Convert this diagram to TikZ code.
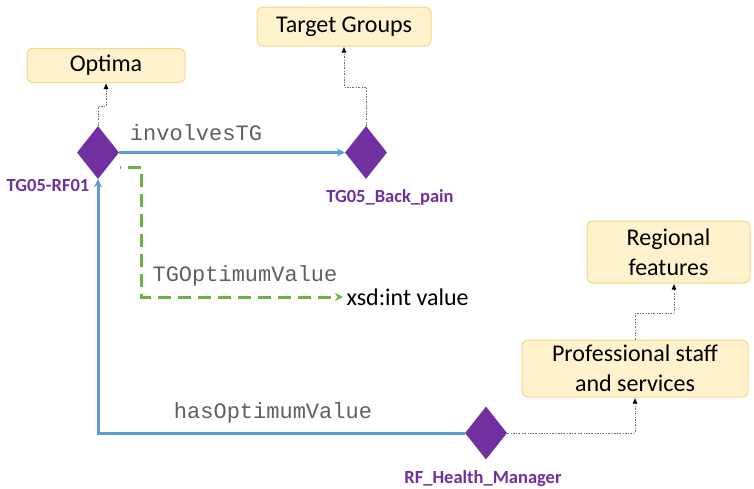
\documentclass[tikz,border=0pt]{standalone}
\usepackage{fontspec}
\setmainfont{Carlito}
\newfontfamily\monof{Liberation Mono}
\usetikzlibrary{shapes.geometric,arrows.meta}
\definecolor{purp}{HTML}{7030A0}
\definecolor{bluel}{HTML}{5B9BD5}
\definecolor{greenl}{HTML}{6DB33F}
\definecolor{boxfill}{HTML}{FFF2CC}
\definecolor{boxline}{HTML}{F5D885}
\definecolor{propgray}{HTML}{606060}
\definecolor{dotgray}{HTML}{707070}
\begin{document}
\begin{tikzpicture}[x=1pt,y=-1pt,
  classbox/.style={draw=boxline,line width=1pt,fill=boxfill,rounded corners=6pt,
    inner sep=0pt,align=center,font=\fontsize{24}{30}\selectfont},
  indiv/.style={diamond,fill=purp,inner sep=0pt,minimum width=42pt,minimum height=53pt},
  indivlabel/.style={text=purp,font=\fontsize{18.5}{22}\selectfont\bfseries},
  proplabel/.style={text=propgray,font=\monof\fontsize{22}{26}\selectfont},
  objprop/.style={draw=bluel,line width=3pt,-{Stealth[length=8pt,width=8pt]}},
  dataprop/.style={draw=greenl,line width=3pt,dash pattern=on 13pt off 7pt,
    -{Stealth[length=8pt,width=8pt]}},
  typeof/.style={draw=dotgray,line width=1pt,dash pattern=on 2pt off 1.5pt on 0.6pt off 1.5pt,
    -{Latex[length=6pt,width=5pt,black]}}]
\useasboundingbox[fill=white] (0,0) rectangle (754,488);

% classes
\node[classbox,minimum width=158pt,minimum height=34pt] (opt) at (106,65.5) {Optima};
\node[classbox,minimum width=174pt,minimum height=39pt] (tg) at (344,26.5) {Target Groups};
\node[classbox,minimum width=163pt,minimum height=62pt] (reg) at (668.5,252) {Regional\\features};
\node[classbox,minimum width=226pt,minimum height=57pt] (prof) at (635,368.5) {Professional staff\\and services};

% individuals
\node[indiv] (rf01) at (98,152.5) {};
\node[indiv] (back) at (366,152.5) {};
\node[indiv] (hm) at (486,433) {};

\node[indivlabel] (lrf01) at (48,185) {TG05-RF01};
\node[indivlabel] (lback) at (390,197) {TG05\_Back\_pain};
\node[indivlabel] (lhm) at (483,479) {RF\_Health\_Manager};

% literal
\node[anchor=west,font=\fontsize{24}{30}\selectfont] (lit) at (343,297) {xsd:int value};

% property labels
\node[proplabel] (pinv) at (196,133) {involvesTG};
\node[proplabel] (ptgo) at (245,276) {TGOptimumValue};
\node[proplabel] (phas) at (273,413) {hasOptimumValue};

% object properties
\draw[objprop] (rf01.east) -- (back.west);
\draw[objprop] (hm.west) -| (rf01.south);

% data property
\coordinate (g0) at (120,167);
\coordinate (g1) at (141,167);
\draw[dataprop,dash phase=12pt] (g0) -- (g1) |- (lit.west);

% class membership
\coordinate (k1) at (98,106);
\coordinate (k2) at (366,87);
\coordinate (k3) at (635,313);
\draw[typeof] (rf01.north) -- (k1) -| (opt.south);
\draw[typeof] (back.north) -- (k2) -| (tg.south);
\draw[typeof] (prof.north) -- (k3) -| ([xshift=5.5pt]reg.south);
\draw[typeof] (hm.east) -| (prof.south);
\end{tikzpicture}
\end{document}
